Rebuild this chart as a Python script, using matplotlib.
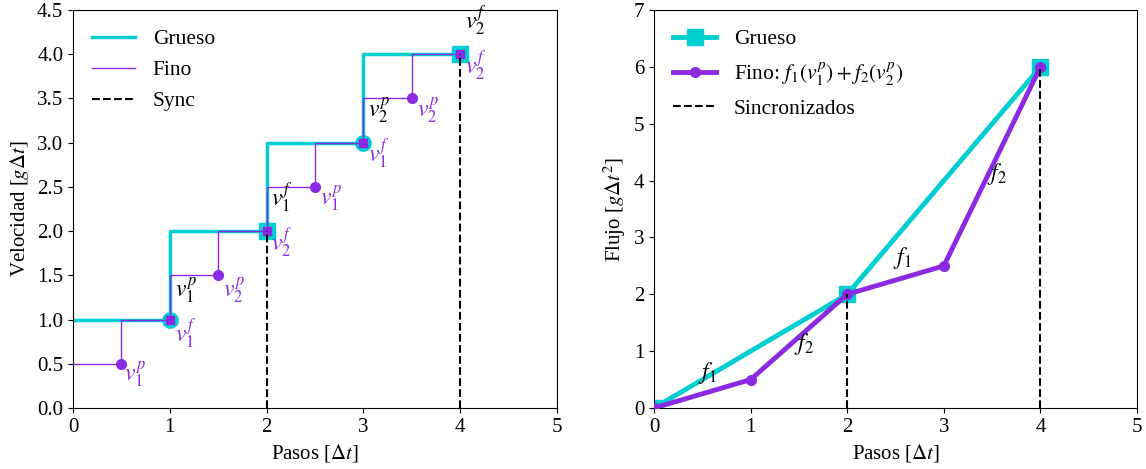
import numpy as np
import matplotlib.pyplot as plt

plt.rcParams['font.family'] = ['Liberation Serif', 'DejaVu Serif']
plt.rcParams['mathtext.fontset'] = 'stix'
plt.rcParams['font.size'] = 15

cyan = '#00CED1'
purple = '#8A2BE2'

# left panel: velocities
coarse_x = [0, 1, 1, 2, 2, 3, 3, 4]
coarse_y = [1, 1, 2, 2, 3, 3, 4, 4]
coarse_circ_x = [1, 3]
coarse_circ_y = [1, 3]
coarse_sq_x = [2, 4]
coarse_sq_y = [2, 4]

fine_x = [0, 0.5, 0.5, 1, 1, 1.5, 1.5, 2, 2, 2.5, 2.5, 3, 3, 3.5, 3.5, 4]
fine_y = [0.5, 0.5, 1, 1, 1.5, 1.5, 2, 2, 2.5, 2.5, 3, 3, 3.5, 3.5, 4, 4]
fine_dot_x = [0.5, 1.5, 2.5, 3.5]
fine_dot_y = [0.5, 1.5, 2.5, 3.5]
fine_sq_x = [1, 2, 3, 4]
fine_sq_y = [1, 2, 3, 4]

sync_x = [2, 4]
sync_v = [2, 4]

# labels (text, x, y, colour)
vel_labels = [
    (r'$v_1^p$', 0.53, 0.38, 'p'),
    (r'$v_1^f$', 1.05, 0.85, 'p'),
    (r'$v_1^p$', 1.05, 1.33, 'k'),
    (r'$v_2^p$', 1.55, 1.33, 'p'),
    (r'$v_2^f$', 2.05, 1.88, 'p'),
    (r'$v_1^f$', 2.05, 2.38, 'k'),
    (r'$v_1^p$', 2.55, 2.38, 'p'),
    (r'$v_1^f$', 3.05, 2.88, 'p'),
    (r'$v_2^p$', 3.05, 3.37, 'k'),
    (r'$v_2^p$', 3.55, 3.37, 'p'),
    (r'$v_2^f$', 4.05, 3.88, 'p'),
    (r'$v_2^f$', 4.05, 4.39, 'k'),
]

# right panel: fluxes
flux_coarse_x = [0, 2, 4]
flux_coarse_y = [0, 2, 6]
flux_fine_x = [0, 1, 2, 3, 4]
flux_fine_y = [0, 0.5, 2, 2.5, 6]
sync_flux = [2, 6]
flux_labels = [
    (r'$f_1$', 0.55, 0.62),
    (r'$f_2$', 1.55, 1.12),
    (r'$f_1$', 2.57, 2.64),
    (r'$f_2$', 3.55, 4.11),
]

fig = plt.figure(figsize=(11.46, 4.69), dpi=100)
ax1 = fig.add_axes([0.0637, 0.130, 0.4223, 0.8486])
ax2 = fig.add_axes([0.5707, 0.130, 0.4215, 0.8486])

# left
ax1.plot(coarse_x, coarse_y, color=cyan, lw=2.5, label='Grueso', zorder=2)
ax1.plot(coarse_circ_x, coarse_circ_y, 'o', color=cyan, ms=11, zorder=2)
ax1.plot(coarse_sq_x, coarse_sq_y, 's', color=cyan, ms=11, zorder=2)
ax1.plot(fine_x, fine_y, color=purple, lw=1, label='Fino', zorder=3)
ax1.plot(fine_dot_x, fine_dot_y, 'o', color=purple, ms=7, zorder=3)
ax1.plot(fine_sq_x, fine_sq_y, 's', color=purple, ms=6, zorder=3)
for i, (x, v) in enumerate(zip(sync_x, sync_v)):
    ax1.plot([x, x], [0, v], 'k--', lw=1.5, zorder=4,
             label='Sync' if i == 0 else None)
for t, x, y, c in vel_labels:
    ax1.text(x, y, t, color=purple if c == 'p' else 'black',
             ha='left', va='center', fontsize=17)
ax1.set_xlim(0, 5)
ax1.set_ylim(0, 4.5)
ax1.set_yticks(np.arange(0, 4.51, 0.5))
ax1.set_xlabel(r'Pasos [$\Delta t$]')
ax1.set_ylabel(r'Velocidad [$g\Delta t$]')
ax1.legend(loc='upper left', frameon=False, fontsize=15.5)

# right
ax2.plot(flux_coarse_x, flux_coarse_y, '-s', color=cyan, lw=3.5, ms=11,
         label='Grueso', zorder=2)
ax2.plot(flux_fine_x, flux_fine_y, '-o', color=purple, lw=3.5, ms=7,
         label=r'Fino: $f_1(v_1^p)+f_2(v_2^p)$', zorder=3)
for i, (x, v) in enumerate(zip(sync_x, sync_flux)):
    ax2.plot([x, x], [0, v], 'k--', lw=1.5, zorder=4,
             label='Sincronizados' if i == 0 else None)
for t, x, y in flux_labels:
    ax2.text(x, y, t, ha='center', va='center', fontsize=17)
ax2.set_xlim(0, 5)
ax2.set_ylim(0, 7)
ax2.set_xlabel(r'Pasos [$\Delta t$]')
ax2.set_ylabel(r'Flujo [$g\Delta t^2$]')
ax2.legend(loc='upper left', frameon=False, fontsize=15.5)

fig.savefig('out.png', dpi=100)
